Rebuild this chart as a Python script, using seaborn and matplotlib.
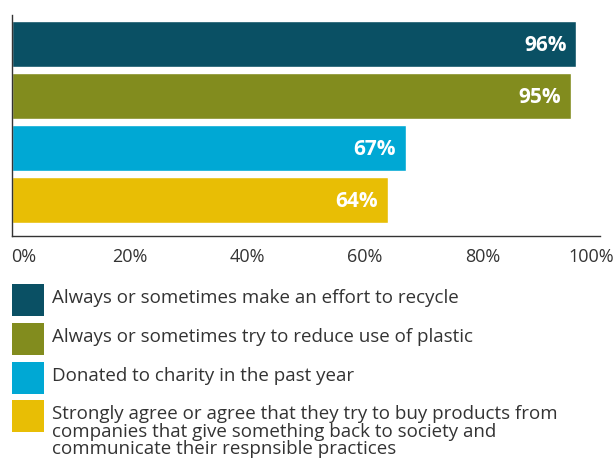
import matplotlib
matplotlib.use("Agg")
import matplotlib.pyplot as plt
from matplotlib.patches import Rectangle
from matplotlib.transforms import ScaledTranslation
import seaborn as sns
import pandas as pd

labels = [
    "Always or sometimes make an effort to recycle",
    "Always or sometimes try to reduce use of plastic",
    "Donated to charity in the past year",
    "Strongly agree or agree that they try to buy products from\ncompanies that give something back to society and\ncommunicate their respnsible practices",
]
values = [96, 95, 67, 64]
colors = ["#0a5064", "#828c1e", "#00a8d4", "#e8be05"]
ticks = [0, 20, 40, 60, 80, 100]

sns.set_style("white")
plt.rcParams["font.family"] = ["Open Sans", "DejaVu Sans"]

df = pd.DataFrame({"label": labels, "value": values})

fig = plt.figure(figsize=(6.15, 4.6), dpi=100)
ax = fig.add_axes([12 / 615, 1 - 237 / 460, 588 / 615, 221 / 460])
sns.barplot(data=df, x="value", y="label", hue="label", palette=colors,
            legend=False, width=0.885, saturation=1, ax=ax)

ax.set_xlim(0, 100)
ax.set_ylim(3.69, -0.558)
ax.set_xticks(ticks)
ax.set_xticklabels([f"{t}%" for t in ticks], fontsize=13, color="#333333")
ax.set_yticks([])
ax.set_xlabel("")
ax.set_ylabel("")
ax.tick_params(axis="x", direction="in", length=6, width=1, color="#333333", pad=8)
for side in ["top", "right"]:
    ax.spines[side].set_visible(False)
for side in ["left", "bottom"]:
    ax.spines[side].set_color("#333333")
    ax.spines[side].set_linewidth(1)

# end labels pulled inside the canvas
tl = ax.get_xticklabels()
tl[0].set_ha("left")
tl[0].set_transform(tl[0].get_transform() + ScaledTranslation(-1 / 100, 0, fig.dpi_scale_trans))
tl[-1].set_ha("right")
tl[-1].set_transform(tl[-1].get_transform() + ScaledTranslation(14 / 100, 0, fig.dpi_scale_trans))

for i, v in enumerate(values):
    ax.text(v - 1.7, i, f"{v}%", ha="right", va="center", color="white",
            fontsize=15, fontweight="bold")

# legend drawn by hand so the square sits at the top of the wrapped label
tops = [285, 324, 363, 401]
for lab, col, top in zip(labels, colors, tops):
    fig.add_artist(Rectangle((12 / 615, 1 - (top + 32) / 460), 32 / 615, 32 / 460,
                             transform=fig.transFigure, color=col, lw=0))
    fig.text(52 / 615, 1 - (top + 4) / 460, lab, ha="left", va="top",
             fontsize=13.5, color="#333333", linespacing=0.98)

fig.savefig("out.png", dpi=100)
